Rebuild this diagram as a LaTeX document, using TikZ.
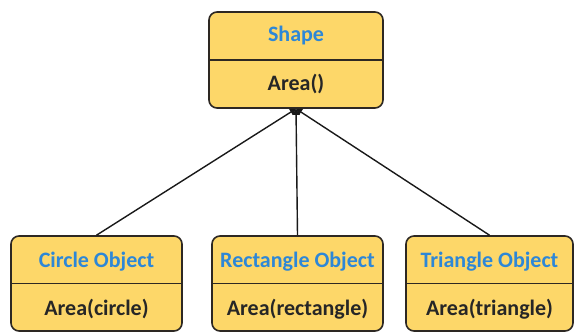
\documentclass[tikz,border=0pt]{standalone}
\usepackage{fontspec}
\setmainfont{Carlito}
\usetikzlibrary{arrows.meta}
\definecolor{classfill}{RGB}{253,215,105}
\definecolor{classline}{RGB}{45,40,35}
\definecolor{titleblue}{RGB}{45,135,215}
\tikzset{
  x=1pt, y=-1pt,
  classbox/.style={draw=classline, line width=1.6pt, fill=classfill, rounded corners=8pt, inner sep=0pt},
  divider/.style={draw=classline, line width=1.6pt},
  classtitle/.style={font=\fontsize{22}{24}\selectfont\bfseries, text=titleblue},
  classmethod/.style={font=\fontsize{22}{24}\selectfont\bfseries, text=black!85},
  inherit/.style={draw=black!90, line width=1.4pt, -{Triangle[width=7pt,length=6pt]}}
}
\begin{document}
\begin{tikzpicture}
\useasboundingbox (0,0) rectangle (575,333);

% parent class
\node[classbox, minimum width=174pt, minimum height=96pt] (shape) at (296,60) {};
\draw[divider] (shape.west) -- (shape.east);
\node[classtitle] (shapeT) at (296,36) {Shape};
\node[classmethod] (shapeM) at (296,84) {Area()};

% derived classes
\node[classbox, minimum width=171pt, minimum height=95pt] (circ) at (96.5,283.5) {};
\draw[divider] (circ.west) -- (circ.east);
\node[classtitle] (circT) at (96.5,262) {Circle Object};
\node[classmethod] (circM) at (96.5,309) {Area(circle)};

\node[classbox, minimum width=171pt, minimum height=95pt] (rect) at (297.5,283.5) {};
\draw[divider] (rect.west) -- (rect.east);
\node[classtitle] (rectT) at (297.5,262) {Rectangle Object};
\node[classmethod] (rectM) at (297.5,309) {Area(rectangle)};

\node[classbox, minimum width=167pt, minimum height=95pt] (tri) at (489.5,283.5) {};
\draw[divider] (tri.west) -- (tri.east);
\node[classtitle] (triT) at (489.5,262) {Triangle Object};
\node[classmethod] (triM) at (489.5,309) {Area(triangle)};

% inheritance links
\draw[inherit] (circ.north) -- (shape.south);
\draw[inherit] (rect.north) -- (shape.south);
\draw[inherit] (tri.north) -- (shape.south);
\end{tikzpicture}
\end{document}
